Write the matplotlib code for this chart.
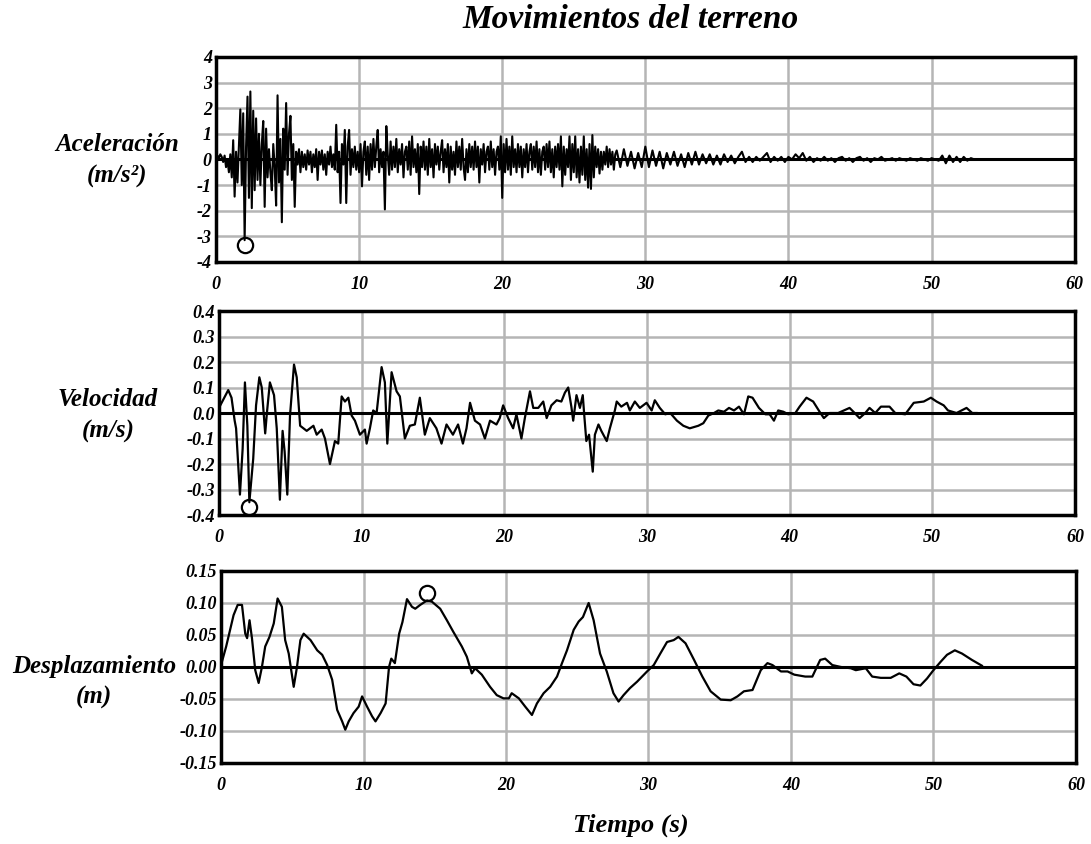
import numpy as np
import matplotlib
matplotlib.use("Agg")
import matplotlib.pyplot as plt

plt.rcParams['font.family'] = ['Liberation Serif', 'DejaVu Serif']

# aceleracion (m/s2), muestreo 0.1 s de 0 a 27.9 s
acc_head = [
    0.1, 0.15, 0.05, 0.2, 0.1, -0.1, 0.15, -0.3, 0.0, -0.5,
    0.2, -0.7, 0.75, -1.45, 0.3, -0.9, 0.5, 1.95, -1.0, 1.8,
    -3.15, 0.5, 2.45, -1.5, 2.65, -1.9, 1.9, -1.2, 1.6, -0.8,
    1.0, -1.0, 0.6, 1.5, -1.85, 1.2, -0.7, 0.4, -0.5, -1.2,
    0.6, -0.3, -1.8, 2.5, -0.9, 0.8, -2.45, 1.2, -0.4, 2.2,
    -0.6, 1.0, 1.7, -0.8, 0.6, -1.85, 0.3, -0.2, 0.4, -0.5,
    0.3, -0.3, 0.2, -0.4, 0.35, -0.2, 0.3, -0.5, 0.2, -0.3,
    0.4, -0.8, 0.3, -0.2, 0.35, -0.4, 0.2, -0.6, 0.3, -0.2,
    0.5, -0.3, 0.2, -0.4, 1.35, -0.5, 0.3, -1.7, 0.6, -0.2,
    1.15, -1.7, 0.5, 1.15, -0.6, 0.4, -0.3, 0.5, -0.4, 0.3,
    -0.5, 0.6, -1.05, 0.3, 0.7, -0.6, 0.5, -0.8, 0.6, -0.4,
    0.8, -0.3, 0.5, 1.15, -0.5, 0.4, -0.3, 0.3, -1.95, 1.3,
    0.2, -0.6, 0.7, -0.4, 0.5, -0.3, 0.8, -0.5, 0.4, -0.2,
    0.6, -0.7, 0.3, 0.5, -0.4, 0.7, -0.6, 0.9, -0.3, 0.4,
    -0.5, 0.6, -1.35, 0.5, -0.3, 0.7, -0.4, 0.5, -0.6, 0.8,
    -0.3, 0.4, -0.7, 0.6, -0.2, 0.5, -0.4, 0.3, 0.75, -0.5,
    0.4, -0.3, 0.6, -0.9, 0.5, -0.4, 0.3, -0.6, 0.7, -0.3,
    0.5, -0.4, 0.8, -0.3, -0.8, 0.4, -0.5, 0.6, -0.3, 0.5,
    -0.4, 0.7, -0.3, 0.5, -0.9, 0.4, -0.2, 0.6, -0.5, 0.3,
    0.5, -0.4, 0.7, -0.3, 0.4, -0.6, 0.3, 0.5, -0.4, 0.9,
    -1.5, 0.6, -0.5, 0.8, -0.4, 0.5, -0.6, 0.9, -0.3, 0.4,
    -0.5, 0.6, -0.3, 0.5, -0.7, 0.4, -0.3, 0.6, -0.5, 0.3,
    0.6, -0.4, 0.5, -0.3, 0.7, -0.5, 0.4, -0.6, 0.3, 0.5,
    -0.4, 0.6, -0.3, 0.7, -0.5, 0.4, -0.7, 0.5, -0.3, 0.6,
    -0.4, 0.9, -1.05, 0.5, -0.6, 0.4, -0.3, 0.9, -0.8, 0.6,
    -0.5, 0.9, -0.7, 0.4, -0.9, 0.5, -0.6, 0.9, -0.8, 0.4,
    -1.1, 0.6, -1.15, 0.95, -0.7, 0.5, -0.3, 0.4, -0.55, 0.3,
    -0.4, 0.3, -0.2, 0.5, -0.3, 0.4, -0.2, 0.3, -0.4, 0.2,
]
# aceleracion, muestreo 0.25 s de 28 a 53 s
acc_tail = [
    0.35, -0.3, 0.4, -0.25,
    0.3, -0.35, 0.25, -0.3,
    0.5, -0.3, 0.35, -0.25,
    0.3, -0.35, 0.25, -0.2,
    0.3, -0.25, 0.2, -0.3,
    0.25, -0.2, 0.3, -0.2,
    0.2, -0.15, 0.2, -0.2,
    0.15, -0.2, 0.2, -0.1,
    0.15, -0.15, 0.1, 0.3,
    -0.1, 0.1, -0.1, 0.1,
    -0.05, 0.1, 0.25, -0.1,
    0.1, -0.05, 0.1, -0.1,
    0.1, 0.0, 0.2, 0.05,
    0.25, -0.05, 0.1, -0.1,
    0.05, -0.05, 0.1, -0.05,
    0.05, -0.1, 0.05, 0.1,
    -0.05, 0.05, -0.1, 0.05,
    0.1, -0.05, 0.05, -0.1,
    0.05, 0.0, 0.1, -0.05,
    0.0, 0.05, -0.05, 0.05,
    0.0, -0.05, 0.05, 0.0,
    -0.05, 0.05, 0.0, -0.05,
    0.05, 0.0, -0.05, 0.15,
    -0.15, 0.15, -0.1, 0.1,
    -0.1, 0.1, -0.05, 0.05,
    0.0,
]
t_acc = np.concatenate([np.arange(len(acc_head)) * 0.1,
                        28.0 + np.arange(len(acc_tail)) * 0.25])
acc = np.array(acc_head + acc_tail)

# velocidad (m/s)
t_vel = [0.0, 0.65, 0.88, 1.1, 1.2, 1.47, 1.66, 1.82, 1.99, 2.13, 2.4, 2.6, 2.83, 3.0,
         3.24, 3.36, 3.57, 3.86, 4.05, 4.27, 4.46, 4.6, 4.79, 4.98, 5.26, 5.45, 5.69,
         6.15, 6.62, 6.85, 7.2, 7.43, 7.78, 8.13, 8.36, 8.6, 8.83, 9.07, 9.3, 9.53,
         9.88, 10.23, 10.35, 10.58, 10.81, 11.05, 11.4, 11.63, 11.8, 12.1, 12.45,
         12.68, 13.03, 13.38, 13.73, 14.08, 14.43, 14.78, 15.24, 15.6, 15.95, 16.4,
         16.76, 17.1, 17.35, 17.6, 17.94, 18.3, 18.64, 19.0, 19.45, 19.68, 19.92,
         20.27, 20.62, 20.85, 21.2, 21.44, 21.8, 22.03, 22.38, 22.73, 22.97, 23.3,
         23.67, 24.0, 24.25, 24.48, 24.7, 24.83, 25.06, 25.3, 25.5, 25.6, 25.75,
         25.94, 26.2, 26.35, 26.6, 26.8, 27.18, 27.4, 27.75, 27.88, 28.2, 28.6,
         28.8, 29.15, 29.5, 29.97, 30.33, 30.55, 30.9, 31.28, 31.63, 32.1, 32.55,
         33.0, 33.6, 33.95, 34.3, 34.7, 35.0, 35.4, 35.75, 36.1, 36.45, 36.8, 37.1,
         37.4, 37.85, 38.3, 38.6, 38.9, 39.2, 39.56, 39.9, 40.4, 40.7, 41.18,
         41.65, 42.1, 42.4, 42.8, 43.4, 44.2, 44.56, 44.9, 45.3, 45.6, 46.0, 46.4,
         47.0, 47.4, 48.1, 48.7, 49.4, 49.9, 50.3, 50.8, 51.1, 51.7, 52.4, 52.8, 53.1]
vel = [0.02, 0.09, 0.06, -0.03, -0.06, -0.32, -0.14, 0.12, -0.05, -0.35, -0.18, 0.03,
       0.14, 0.1, -0.08, 0.0, 0.12, 0.07, -0.06, -0.34, -0.07, -0.15, -0.32, -0.01,
       0.19, 0.14, -0.05, -0.07, -0.05, -0.085, -0.065, -0.1, -0.2, -0.11, -0.12,
       0.065, 0.045, 0.06, -0.01, -0.03, -0.085, -0.065, -0.12, -0.06, 0.01, 0.0,
       0.18, 0.12, -0.12, 0.16, 0.085, 0.065, -0.1, -0.05, -0.045, 0.06, -0.085,
       -0.02, -0.06, -0.12, -0.045, -0.085, -0.045, -0.12, -0.06, 0.04, -0.03,
       -0.045, -0.1, -0.03, -0.045, -0.02, 0.03, -0.02, -0.06, -0.005, -0.1, -0.02,
       0.085, 0.02, 0.02, 0.045, -0.02, 0.03, 0.05, 0.045, 0.08, 0.1, 0.025, -0.03,
       0.07, 0.02, 0.07, -0.005, -0.11, -0.085, -0.23, -0.085, -0.045, -0.07, -0.11,
       -0.06, 0.01, 0.045, 0.025, 0.04, 0.01, 0.045, 0.02, 0.04, 0.01, 0.05, 0.02,
       -0.005, 0.0, -0.03, -0.05, -0.06, -0.05, -0.04, -0.01, 0.0, 0.01, 0.005,
       0.02, 0.01, 0.025, -0.005, 0.065, 0.06, 0.02, -0.005, -0.005, -0.03, 0.01,
       0.005, -0.005, 0.0, 0.025, 0.06, 0.045, 0.005, -0.02, 0.0, 0.0, 0.02, 0.0,
       -0.02, 0.0, 0.02, 0.0, 0.025, 0.025, 0.0, -0.005, 0.04, 0.045, 0.06, 0.045,
       0.03, 0.01, 0.0, 0.02, 0.0, 0.0]

# desplazamiento (m)
t_dis = [0.0, 0.36, 0.88, 1.17, 1.47, 1.7, 1.83, 2.0, 2.17, 2.4, 2.64, 2.87, 3.1, 3.4,
         3.7, 3.97, 4.27, 4.5, 4.75, 5.1, 5.33, 5.57, 5.8, 6.28, 6.75, 7.1, 7.45, 7.8,
         8.15, 8.5, 8.72, 8.96, 9.3, 9.66, 9.9, 10.25, 10.6, 10.84, 11.2, 11.55, 11.79,
         11.95, 12.2, 12.5, 12.73, 13.05, 13.4, 13.63, 13.98, 14.46, 14.8, 15.38,
         15.85, 16.3, 16.9, 17.25, 17.6, 17.83, 18.3, 18.88, 19.35, 19.82, 20.2, 20.4,
         20.9, 21.35, 21.82, 22.17, 22.64, 23.1, 23.58, 23.93, 24.28, 24.75, 25.1,
         25.4, 25.8, 26.15, 26.6, 27.07, 27.54, 27.9, 28.25, 28.7, 29.2, 29.9, 30.37,
         30.83, 31.3, 31.77, 32.1, 32.6, 33.2, 33.78, 34.36, 35.07, 35.77, 36.24,
         36.7, 37.3, 37.88, 38.35, 38.7, 39.3, 39.76, 40.23, 41.0, 41.5, 42.05, 42.4,
         42.9, 43.5, 44.2, 44.55, 45.25, 45.7, 46.3, 47.0, 47.6, 48.1, 48.6, 49.08,
         49.55, 50.0, 50.5, 50.95, 51.5, 52.0, 52.7, 53.4]
dis = [0.003, 0.032, 0.081, 0.097, 0.097, 0.052, 0.045, 0.073, 0.045, -0.005, -0.025,
       0.0, 0.032, 0.047, 0.068, 0.107, 0.094, 0.042, 0.021, -0.031, 0.0, 0.042,
       0.052, 0.042, 0.026, 0.019, 0.003, -0.02, -0.067, -0.085, -0.098, -0.085,
       -0.072, -0.062, -0.046, -0.062, -0.077, -0.085, -0.072, -0.057, 0.0, 0.013,
       0.006, 0.052, 0.07, 0.106, 0.094, 0.091, 0.097, 0.104, 0.102, 0.091, 0.073,
       0.055, 0.032, 0.016, -0.01, -0.002, -0.012, -0.031, -0.044, -0.049, -0.049,
       -0.041, -0.049, -0.062, -0.075, -0.057, -0.041, -0.031, -0.015, 0.006, 0.026,
       0.058, 0.071, 0.078, 0.1, 0.073, 0.021, -0.007, -0.041, -0.054, -0.044,
       -0.033, -0.023, -0.007, 0.003, 0.021, 0.039, 0.042, 0.047, 0.037, 0.011,
       -0.015, -0.038, -0.051, -0.052, -0.046, -0.038, -0.036, -0.005, 0.006, 0.003,
       -0.007, -0.007, -0.012, -0.015, -0.015, 0.011, 0.013, 0.003, 0.0, -0.002,
       -0.005, -0.002, -0.015, -0.017, -0.017, -0.01, -0.015, -0.027, -0.029, -0.018,
       -0.005, 0.008, 0.019, 0.026, 0.021, 0.011, 0.002]

# picos marcados con circulo
peaks = [(2.0, -3.35), (2.12, -0.37), (14.46, 0.115)]

panels = [
    (t_acc, acc, [-4, -3, -2, -1, 0, 1, 2, 3, 4],
     ['-4', '-3', '-2', '-1', '0', '1', '2', '3', '4'], 'Aceleración\n(m/s²)'),
    (t_vel, vel, [-0.4, -0.3, -0.2, -0.1, 0.0, 0.1, 0.2, 0.3, 0.4],
     ['-0.4', '-0.3', '-0.2', '-0.1', '0.0', '0.1', '0.2', '0.3', '0.4'], 'Velocidad\n(m/s)'),
    (t_dis, dis, [-0.15, -0.10, -0.05, 0.0, 0.05, 0.10, 0.15],
     ['-0.15', '-0.10', '-0.05', '0.00', '0.05', '0.10', '0.15'], 'Desplazamiento\n(m)'),
]
positions = [[0.198, 0.6896, 0.787, 0.243],
             [0.2007, 0.3898, 0.7846, 0.2417],
             [0.2026, 0.0960, 0.7836, 0.2275]]
label_xy = [(0.107, 0.81), (0.099, 0.508), (0.086, 0.192)]
line_w = [1.5, 1.6, 1.6]
xticks = [0, 10, 20, 30, 40, 50, 60]

fig = plt.figure(figsize=(10.91, 8.44), dpi=100)
for i, (t, y, yt, ytl, lab) in enumerate(panels):
    ax = fig.add_axes(positions[i])
    ax.set_xlim(0, 60)
    ax.set_ylim(yt[0], yt[-1])
    ax.set_xticks(xticks)
    ax.set_xticklabels([str(v) for v in xticks])
    ax.set_yticks(yt)
    ax.set_yticklabels(ytl)
    ax.grid(True, color='#b5b5b5', linewidth=1.8)
    ax.set_axisbelow(True)
    ax.axhline(0, color='black', linewidth=2.2, zorder=2)
    ax.plot(t, y, color='black', linewidth=line_w[i], zorder=3)
    px, py = peaks[i]
    ax.plot(px, py, 'o', markersize=11, markerfacecolor='none',
            markeredgecolor='black', markeredgewidth=1.6, zorder=4)
    for s in ax.spines.values():
        s.set_linewidth(2.5)
    ax.tick_params(length=0)
    for tl in ax.get_xticklabels() + ax.get_yticklabels():
        tl.set_fontsize(13)
        tl.set_fontweight('bold')
        tl.set_fontstyle('italic')
    ax.tick_params(axis='y', pad=3)
    ax.tick_params(axis='x', pad=10)
    fig.text(label_xy[i][0], label_xy[i][1], lab, ha='center', va='center',
             fontsize=18, fontweight='bold', fontstyle='italic', linespacing=1.45)

fig.text(0.578, 0.977, 'Movimientos del terreno', ha='center', va='center',
         fontsize=24, fontstyle='italic', fontweight='bold')
fig.text(0.578, 0.022, 'Tiempo (s)', ha='center', va='center',
         fontsize=19, fontstyle='italic', fontweight='bold')

fig.savefig('out.png', dpi=100)
